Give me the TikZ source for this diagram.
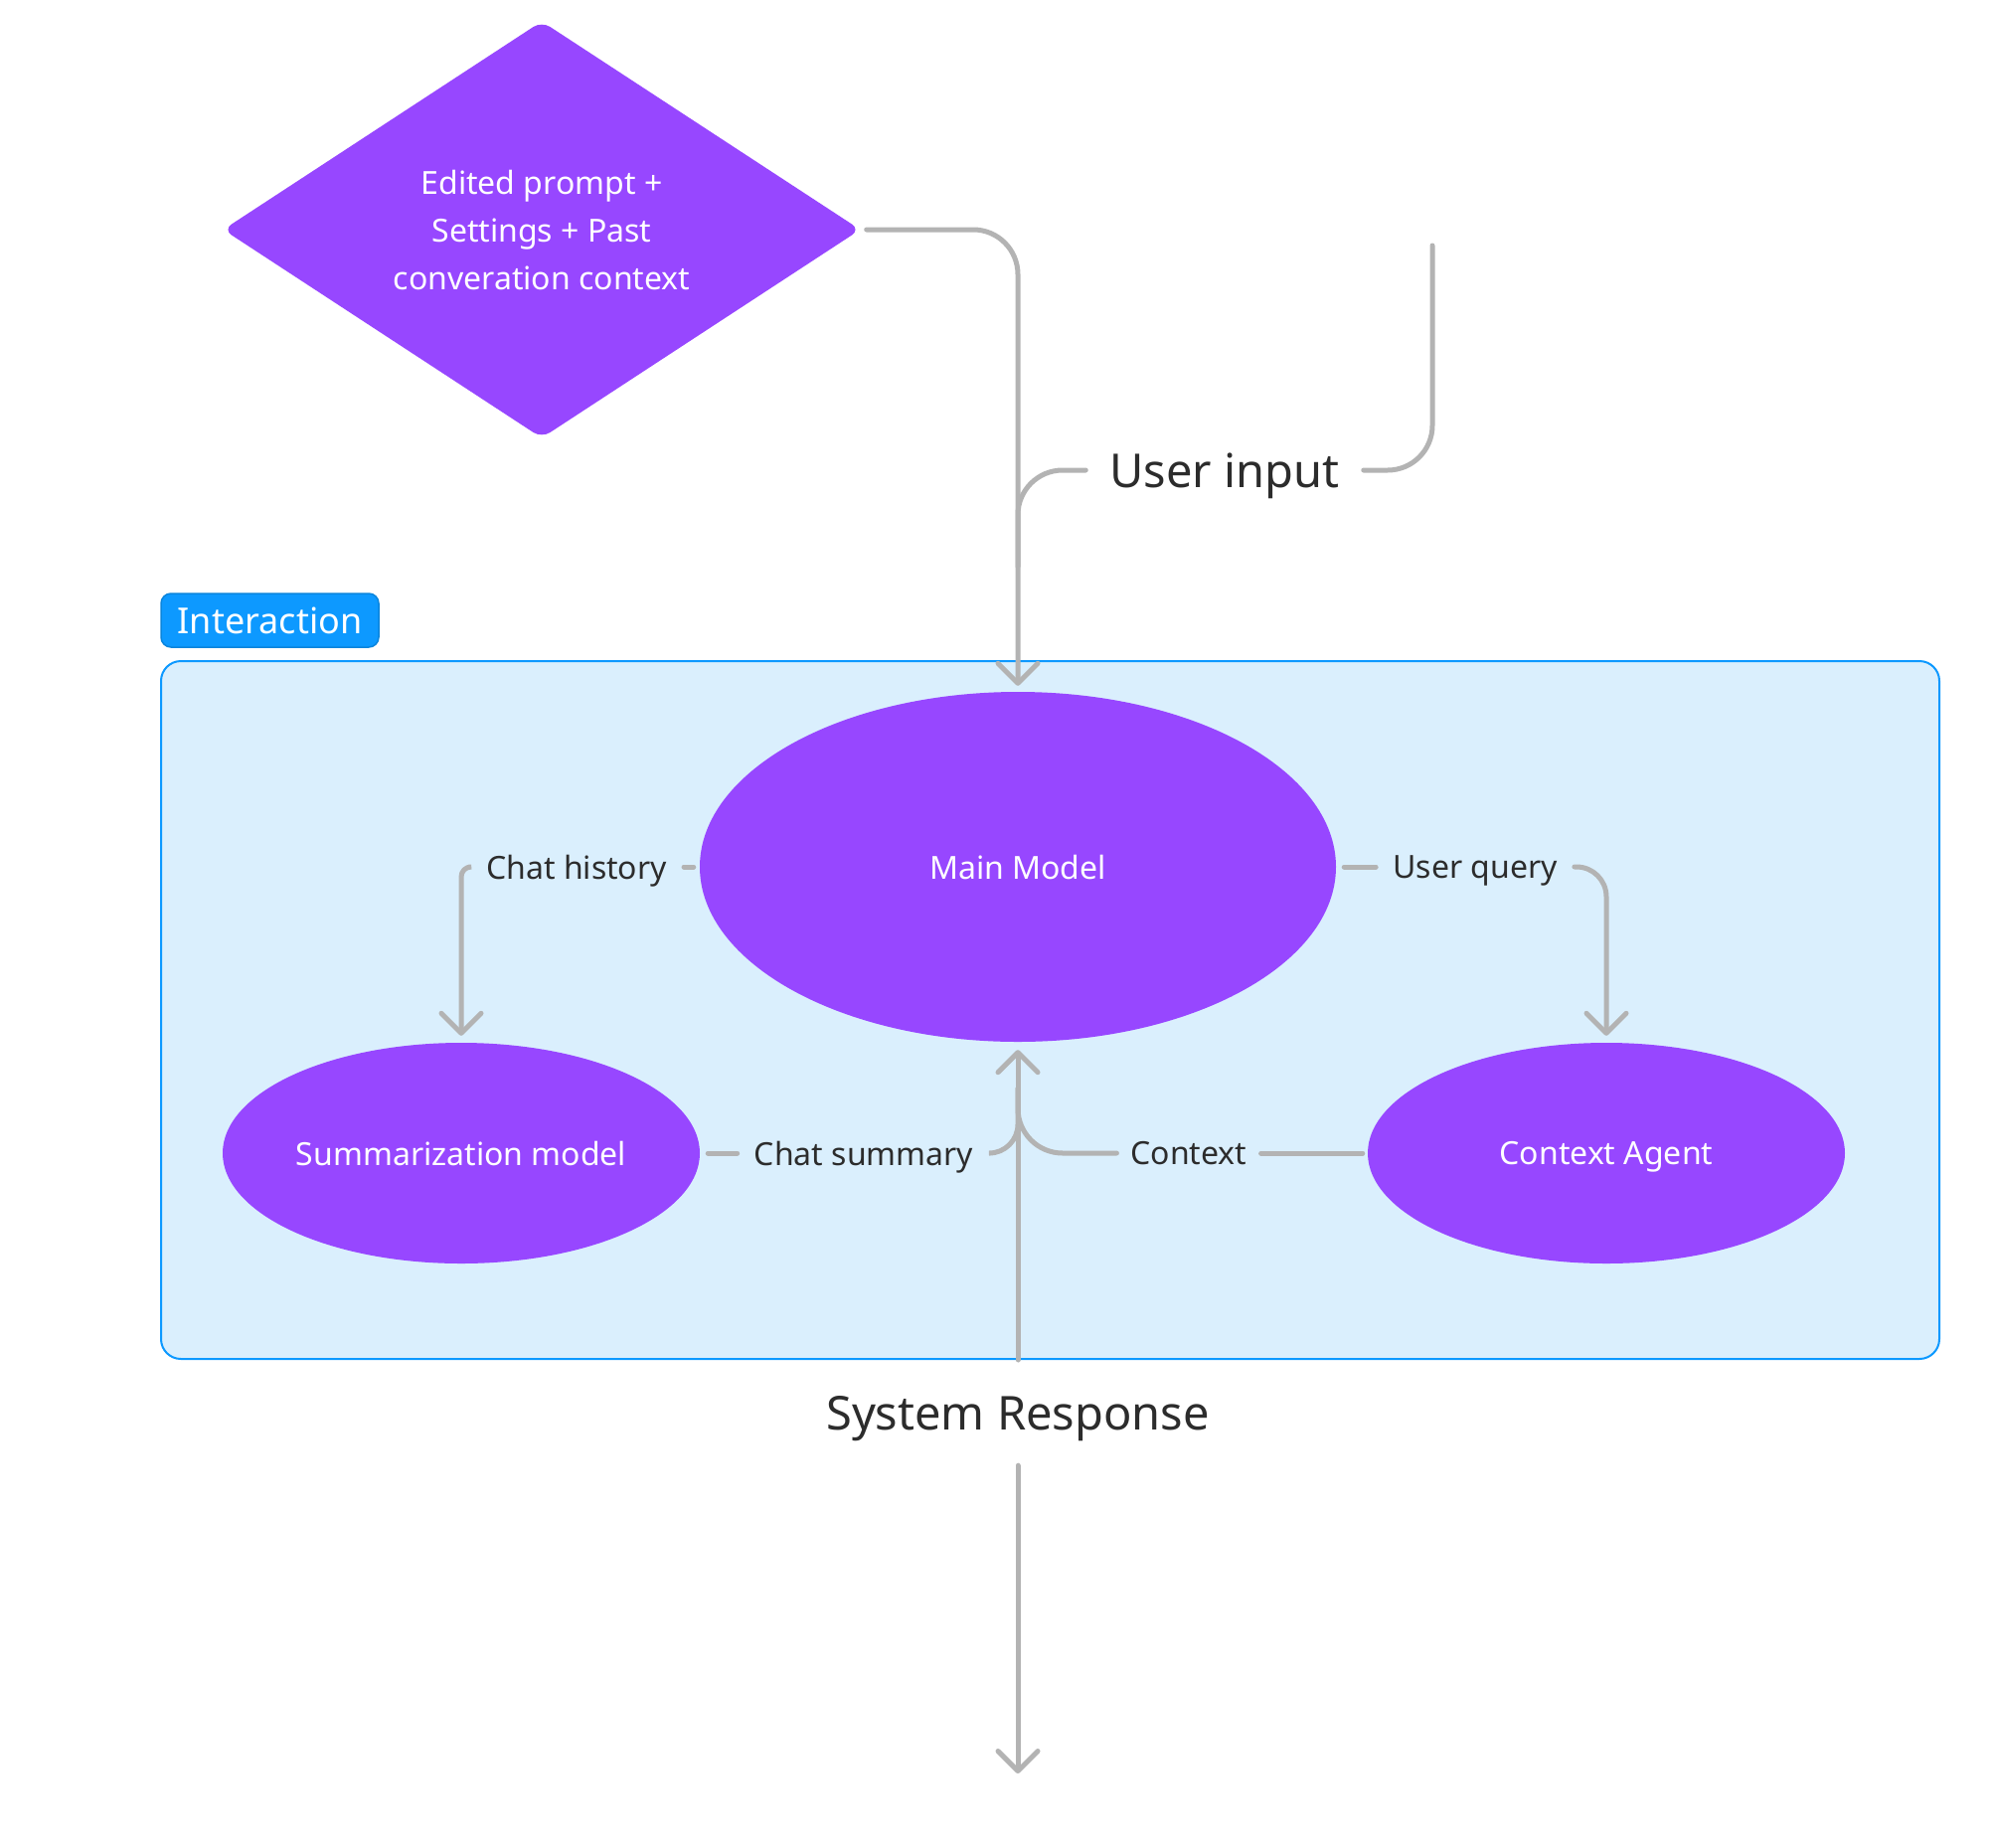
\documentclass[tikz,border=0pt]{standalone}
\usepackage{fontspec}
\setmainfont{Noto Sans}
\usetikzlibrary{shapes.geometric,arrows.meta,calc}
\definecolor{purp}{HTML}{9747FF}
\definecolor{conn}{HTML}{B3B3B3}
\definecolor{boxfill}{HTML}{DAEFFD}
\definecolor{boxline}{HTML}{0D99FF}
\definecolor{tagline}{HTML}{0A85DD}
\definecolor{ink}{HTML}{2C2C2C}
\begin{document}
\begin{tikzpicture}[x=1pt,y=-1pt,
  wire/.style={draw=conn,line width=5pt,line cap=round},
  arr/.style={wire,-{Straight Barb[length=20pt,width=40pt,line width=5pt,round]}},
  purpnode/.style={fill=purp,text=white,inner sep=0pt,align=center,font=\fontsize{32}{48}\selectfont},
  ell/.style={purpnode,ellipse,text depth=0pt},
  diam/.style={purpnode,diamond,rounded corners=10pt},
  lbl/.style={text=ink,inner sep=0pt,text depth=0pt,font=\fontsize{32}{38}\selectfont},
  biglbl/.style={text=ink,inner sep=0pt,text depth=0pt,font=\fontsize{47}{56}\selectfont}
]
\useasboundingbox (0,0) rectangle (2005,1858);

% group box and tag
\node[draw=boxline,fill=boxfill,line width=2pt,rounded corners=20pt,
      minimum width=1789pt,minimum height=702pt,inner sep=0pt] (box) at (1056.5,1016) {};
\node[draw=tagline,fill=boxline,line width=1.5pt,rounded corners=10pt,text=white,
      minimum width=219pt,minimum height=54pt,inner sep=0pt,text depth=0pt,
      font=\fontsize{36}{40}\selectfont] (tag) at (271.5,624) {Interaction};

% shapes
\node[diam,minimum width=641pt,minimum height=415pt] (d) at (545,231)
  {Edited prompt +\\Settings + Past\\converation context};
\node[ell,minimum width=640pt,minimum height=352pt] (m) at (1024,872) {Main Model};
\node[ell,minimum width=480pt,minimum height=222pt] (s) at (464,1160) {Summarization model};
\node[ell,minimum width=480pt,minimum height=222pt] (ca) at (1616,1160) {Context Agent};

% labels
\node[biglbl,inner xsep=24pt] (ui) at (1232,473) {User input};
\node[biglbl] (sr) at (1024,1421) {System Response};
\node[lbl,inner xsep=17pt] (ch) at (580,872) {Chat history};
\node[lbl,inner xsep=17pt] (uq) at (1484,872) {User query};
\node[lbl,inner xsep=17pt] (cs) at (869,1160) {Chat summary};
\node[lbl,inner xsep=14pt] (ctx) at (1196,1160) {Context};

% free ends
\coordinate (uitop) at (1441,247);
\coordinate (merge1) at (1024,570);
\coordinate (merge2) at (1024,1095);
\coordinate (outbot) at (1024,1784);

% connectors
\draw[arr,rounded corners=45pt,shorten <=6pt,shorten >=6pt] (d.east) -| (m.north);
\draw[wire,rounded corners=45pt] (uitop) |- (ui.east);
\draw[wire,rounded corners=45pt] (ui.west) -| (merge1);

\draw[wire,shorten <=6pt] (m.west) -- (ch.east);
\draw[arr,rounded corners=10pt,shorten >=7pt] (ch.west) -| (s.north);

\draw[wire,shorten <=8pt] (m.east) -- (uq.west);
\draw[arr,rounded corners=30pt,shorten >=7pt] (uq.east) -| (ca.north);

\draw[wire,shorten <=8pt] (s.east) -- (cs.west);
\draw[wire,rounded corners=29pt] (cs.east) -| (merge2);

\draw[wire,shorten <=5pt] (ca.west) -- (ctx.east);
\draw[wire,rounded corners=45pt] (ctx.west) -| (merge2);

\draw[arr,shorten >=8pt] (box.south -| m.south) -- (m.south);
\draw[arr,shorten <=36pt] (sr.south) -- (outbot);
\end{tikzpicture}
\end{document}
